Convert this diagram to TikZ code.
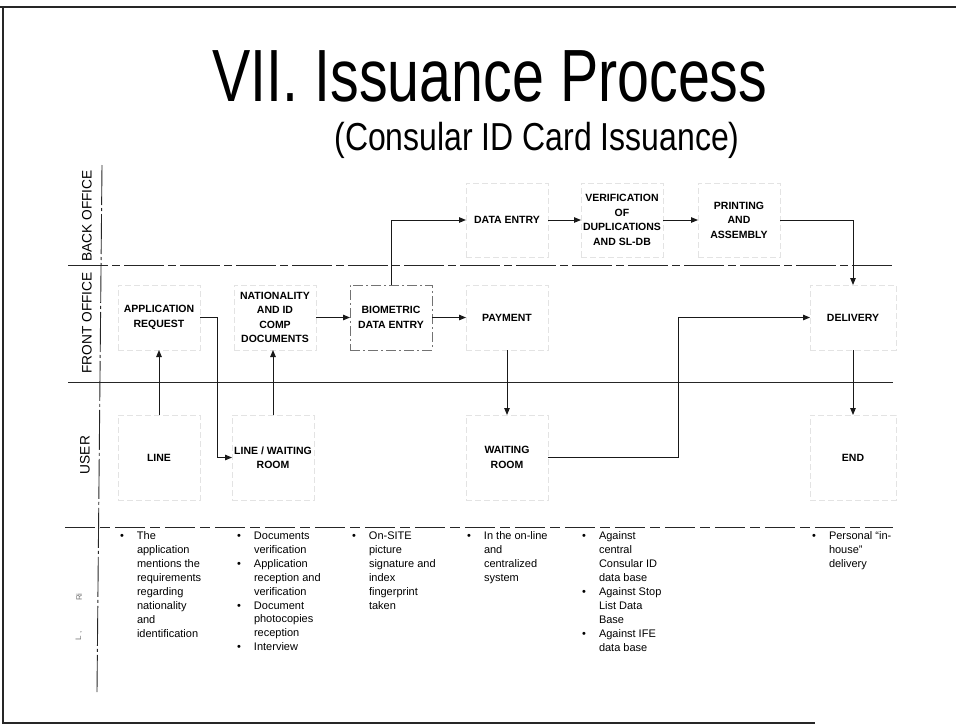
\documentclass[tikz,border=0pt]{standalone}
\usepackage{fontspec}
\setmainfont{Liberation Sans}
\usetikzlibrary{arrows.meta}
\newcommand{\lbul}{\makebox[17pt][l]{\textbullet}}
\newcommand{\lind}{\hspace*{17pt}}
\begin{document}
\begin{tikzpicture}[x=1pt,y=-1pt,
  every node/.style={inner sep=0pt, outer sep=0pt},
  procbox/.style={draw=black!11, dash pattern=on 6pt off 3pt, line width=0.6pt, align=center,
    font=\fontsize{10.5}{14.5}\selectfont\bfseries, minimum width=82pt},
  fbox/.style={procbox, minimum height=65pt},
  bbox/.style={procbox, minimum height=74pt},
  ubox/.style={procbox, minimum height=85pt},
  arr/.style={line width=1pt, black!90, -{Triangle[length=7pt,width=5.5pt]}},
  laneline/.style={line width=0.9pt, black!85},
  lanelbl/.style={rotate=90, font=\fontsize{13.7}{16}\selectfont},
  lst/.style={anchor=north west, align=left, font=\fontsize{11}{13.9}\selectfont}
]
\useasboundingbox (0,0) rectangle (956,726);
% frame
\draw[line width=1.8pt, black!85] (0,7) -- (956,7);
\draw[line width=1.2pt, black!85] (3,7) -- (3,723) -- (815,723);

% title
\node[anchor=base] (title) at (490,101) {\fontsize{74}{80}\selectfont\scalebox{0.775}[1]{VII. Issuance Process}};
\node[anchor=base] (subtitle) at (537,150) {\fontsize{39}{44}\selectfont\scalebox{0.82}[1]{(Consular ID Card Issuance)}};

% lane lines
\draw[laneline, dash pattern=on 40pt off 4pt on 8pt off 4pt] (68,265) -- (893,265);
\draw[laneline] (68,382) -- (893,382);
\draw[laneline, dash pattern=on 30pt off 5pt on 10pt off 5pt] (65,527) -- (893,527);
\draw[laneline, dash pattern=on 40pt off 3pt on 3pt off 3pt] (102,165) -- (97,692);

% lane labels
\node[lanelbl] (lbo) at (87,216) {BACK OFFICE};
\node[lanelbl] (lfo) at (87,323) {FRONT OFFICE};
\node[lanelbl] (lus) at (85,455) {USER};
\node[rotate=90, font=\fontsize{8}{9}\selectfont, text=black!55] (lrm1) at (79,597) {Ri};
\node[rotate=90, font=\fontsize{8}{9}\selectfont, text=black!55] (lrm2) at (79,636) {L ,};

% process boxes
\node[fbox] (appreq) at (159,317.5) {APPLICATION\\REQUEST};
\node[fbox] (nat) at (275,317.5) {NATIONALITY\\AND ID\\COMP\\DOCUMENTS};
\node[fbox, draw=black!55, dash pattern=on 10pt off 3pt on 2pt off 3pt] (bio) at (391,317.5) {BIOMETRIC\\DATA ENTRY};
\node[fbox] (pay) at (507,317.5) {PAYMENT};
\node[fbox, minimum width=86pt] (del) at (853,317.5) {DELIVERY};
\node[bbox] (de) at (507,220) {DATA ENTRY};
\node[bbox] (ver) at (622,220) {VERIFICATION\\OF\\DUPLICATIONS\\AND SL-DB};
\node[bbox] (prt) at (739,220) {PRINTING\\AND\\ASSEMBLY};
\node[ubox] (line) at (159,457.5) {LINE};
\node[ubox] (lwr) at (273,457.5) {LINE / WAITING\\ROOM};
\node[ubox] (wr) at (507,457.5) {WAITING\\ROOM};
\node[ubox, minimum width=86pt] (end) at (853,457.5) {END};

% connectors
\draw[arr] (line.north) -- (appreq.south);
\draw[arr] (appreq.east) -- ++(17,0) |- (lwr.west);
\draw[arr] (lwr.north) -- (lwr.north |- nat.south);
\draw[arr] (nat.east) -- (bio.west);
\draw[arr] (bio.east) -- (pay.west);
\draw[arr] (bio.north) |- (de.west);
\draw[arr] (de.east) -- (ver.west);
\draw[arr] (ver.east) -- (prt.west);
\draw[arr] (prt.east) -| (del.north);
\draw[arr] (pay.south) -- (wr.north);
\draw[arr] (wr.east) -- ++(130,0) |- (del.west);
\draw[arr] (del.south) -- (end.north);

% notes
\node[lst] (n1) at (120,532) {\lbul The\\\lind application\\\lind mentions the\\\lind requirements\\\lind regarding\\\lind nationality\\\lind and\\\lind identification};
\node[lst] (n2) at (237,532) {\lbul Documents\\\lind verification\\\lbul Application\\\lind reception and\\\lind verification\\\lbul Document\\\lind photocopies\\\lind reception\\\lbul Interview};
\node[lst] (n3) at (352,532) {\lbul On-SITE\\\lind picture\\\lind signature and\\\lind index\\\lind fingerprint\\\lind taken};
\node[lst] (n4) at (467,532) {\lbul In the on-line\\\lind and\\\lind centralized\\\lind system};
\node[lst] (n5) at (582,532) {\lbul Against\\\lind central\\\lind Consular ID\\\lind data base\\\lbul Against Stop\\\lind List Data\\\lind Base\\\lbul Against IFE\\\lind data base};
\node[lst] (n6) at (812,532) {\lbul Personal ``in-\\\lind house''\\\lind delivery};
\end{tikzpicture}
\end{document}
